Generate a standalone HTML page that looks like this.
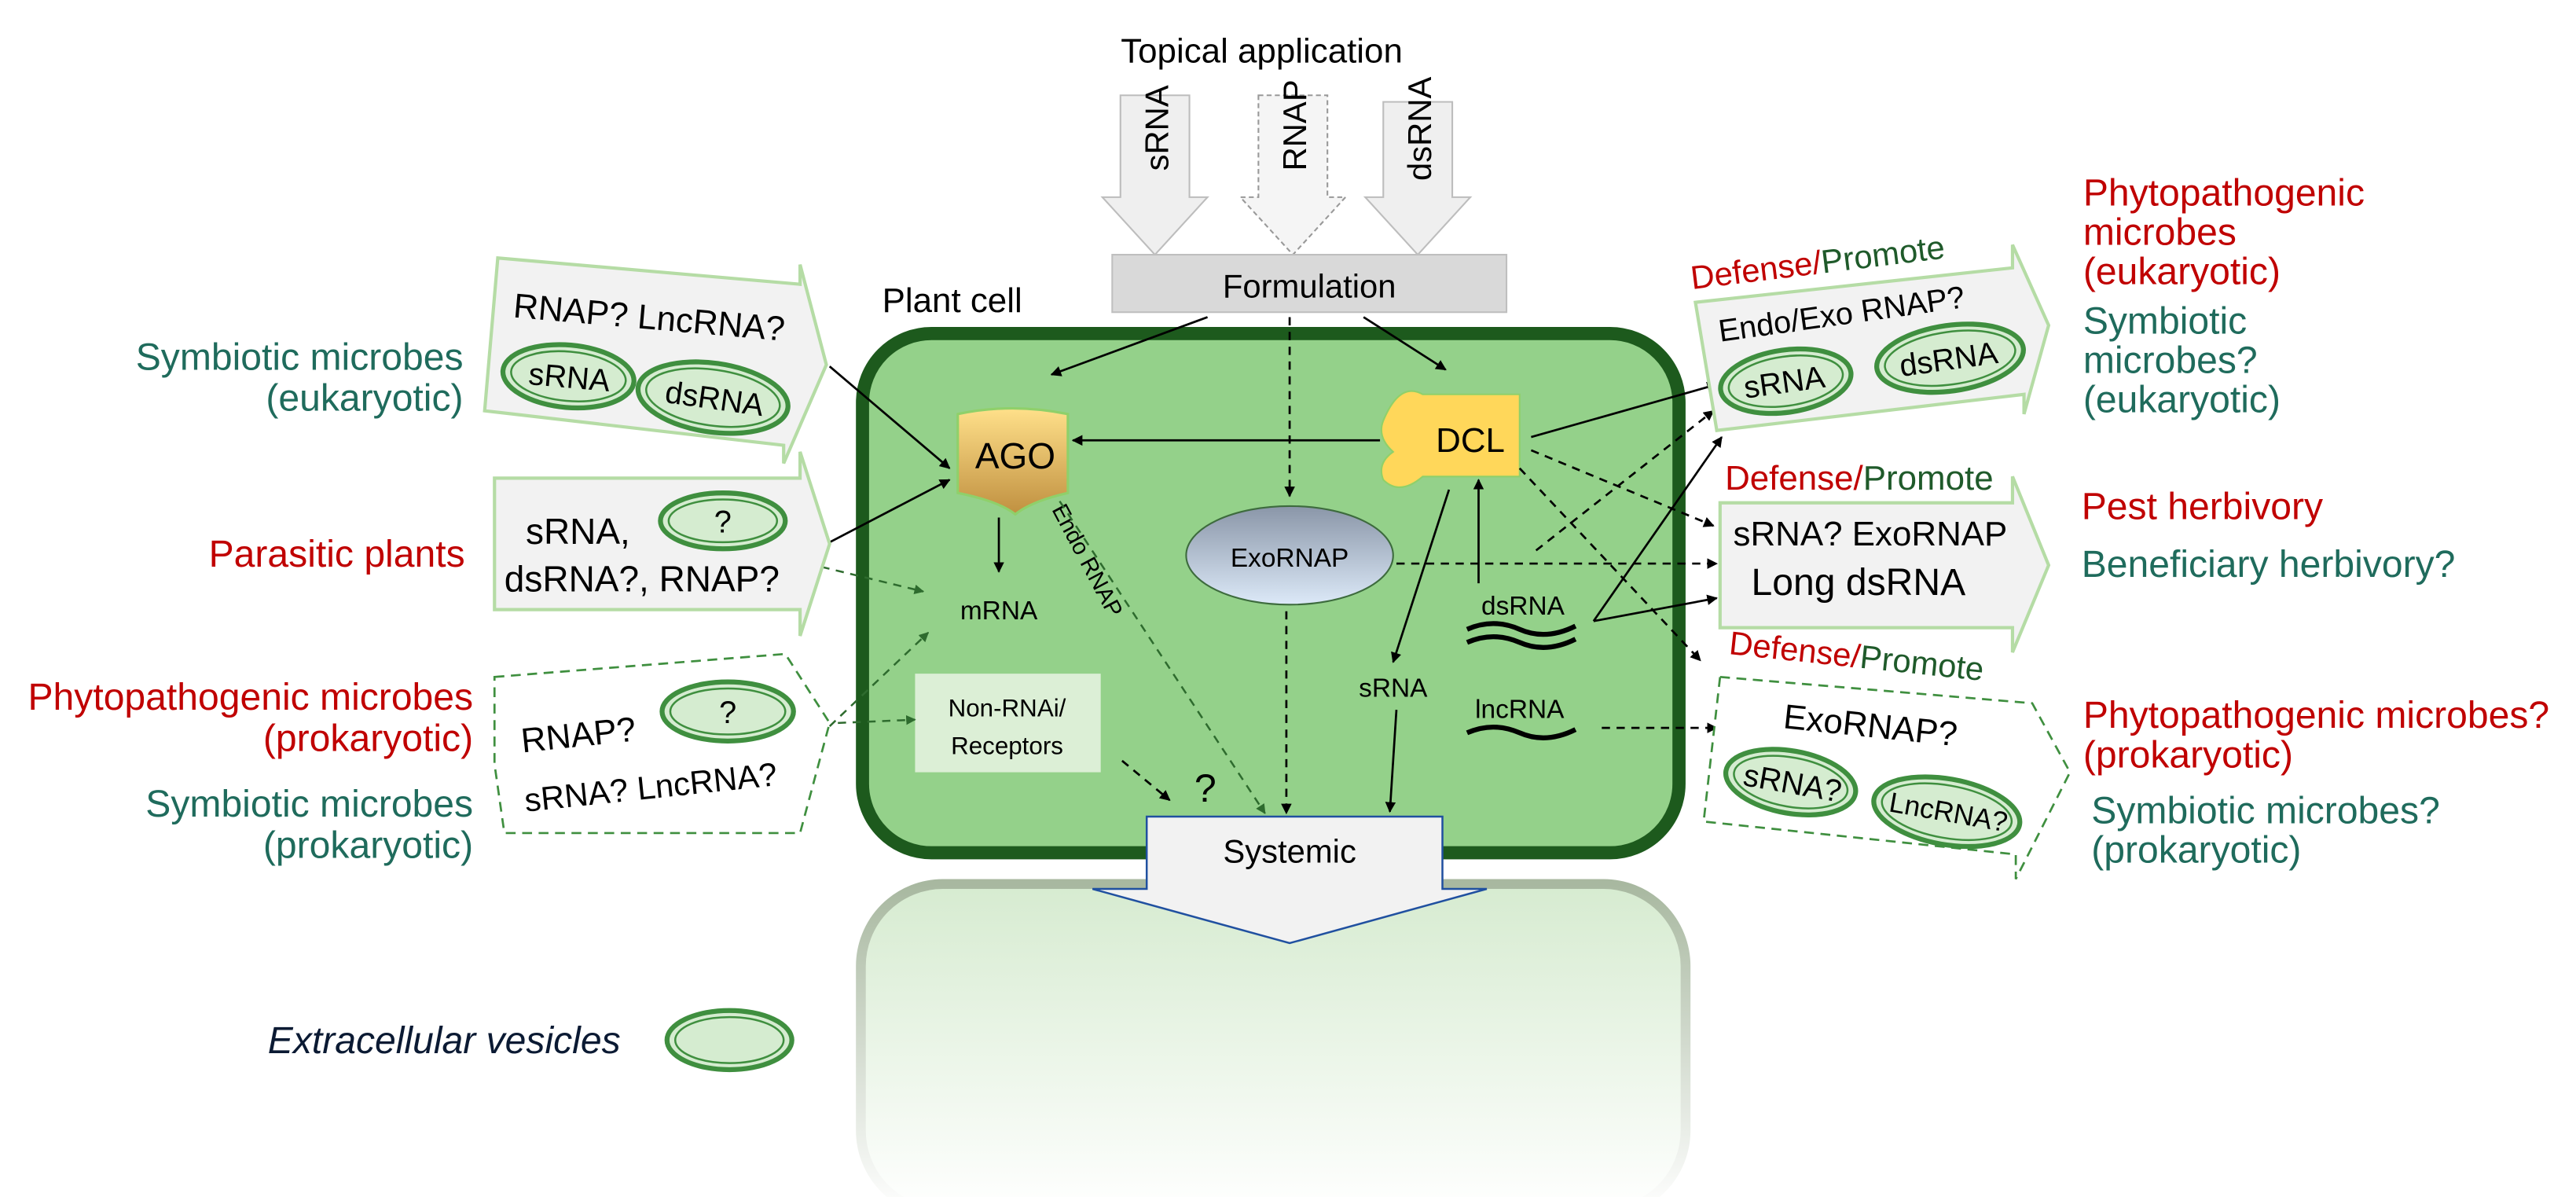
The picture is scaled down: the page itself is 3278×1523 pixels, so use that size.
<!DOCTYPE html>
<html><head><meta charset="utf-8"><style>
html,body{margin:0;padding:0;background:#fff;}
svg{display:block;}
text{font-family:"Liberation Sans",sans-serif;}
</style></head><body>
<svg width="3278" height="1523" viewBox="0 0 1568 728.5" xmlns="http://www.w3.org/2000/svg">
<defs>
<marker id="ah" viewBox="0 0 10 10" refX="9" refY="5" markerWidth="5" markerHeight="5" orient="auto"><path d="M0,0L10,5L0,10z" fill="#000"/></marker>
<marker id="ahg" viewBox="0 0 10 10" refX="9" refY="5" markerWidth="5" markerHeight="5" orient="auto"><path d="M0,0L10,5L0,10z" fill="#2e6b2e"/></marker>
<linearGradient id="ago" x1="0" y1="0" x2="0" y2="1"><stop offset="0" stop-color="#ffe08a"/><stop offset="1" stop-color="#c09040"/></linearGradient>
<linearGradient id="exo" x1="0" y1="0" x2="0" y2="1"><stop offset="0" stop-color="#8a96a8"/><stop offset="1" stop-color="#dce9f8"/></linearGradient>
<linearGradient id="low" x1="0" y1="0" x2="0" y2="1"><stop offset="0" stop-color="#d6ebd0"/><stop offset="1" stop-color="#ffffff"/></linearGradient>
<linearGradient id="lowb" x1="0" y1="0" x2="0" y2="1"><stop offset="0" stop-color="#a8b8a0"/><stop offset="1" stop-color="#ffffff"/></linearGradient>
</defs>

<!-- Topical -->
<text x="768" y="38" font-size="21" text-anchor="middle">Topical  application</text>
<path d="M682,58H724V120H735L703,155L671,120H682Z" fill="#efefef" stroke="#bdbdbd"/>
<text transform="translate(711,104) rotate(-90)" font-size="20">sRNA</text>
<path d="M766,58H808V120H819L787,155L755,120H766Z" fill="#f5f5f5" stroke="#999" stroke-dasharray="3,2"/>
<text transform="translate(795,104) rotate(-90)" font-size="20">RNAP</text>
<path d="M842,62H884V120H895L863,155L831,120H842Z" fill="#efefef" stroke="#bdbdbd"/>
<text transform="translate(871,110) rotate(-90)" font-size="20">dsRNA</text>
<rect x="677" y="155" width="240" height="35" fill="#d9d9d9" stroke="#bfbfbf"/>
<text x="797" y="181" font-size="20" text-anchor="middle">Formulation</text>

<!-- lower cell -->
<rect x="524" y="538" width="502" height="200" rx="50" fill="url(#low)" stroke="url(#lowb)" stroke-width="6"/>

<!-- plant cell -->
<text x="537" y="190" font-size="21">Plant cell</text>
<rect x="525" y="203" width="497" height="316" rx="42" fill="#94d18a" stroke="#1d5a1d" stroke-width="8"/>

<!-- AGO -->
<path d="M583,252Q616,245 650,252V300Q628,305 618,313Q608,305 583,300Z" fill="url(#ago)" stroke="#8fd06a" stroke-width="1.5"/>
<text x="618" y="285" font-size="22" text-anchor="middle">AGO</text>
<!-- DCL -->
<path d="M866,240H925V290H866Q852,302 842,292Q838,282 848,275Q838,266 842,256Q852,232 866,240Z" fill="#ffd75a" stroke="#8fd06a" stroke-width="1"/>
<text x="895" y="275" font-size="21" text-anchor="middle">DCL</text>
<!-- ExoRNAP -->
<ellipse cx="785" cy="338" rx="63" ry="30" fill="url(#exo)" stroke="#3d6b3d"/>
<text x="785" y="345" font-size="16" text-anchor="middle">ExoRNAP</text>
<text x="608" y="377" font-size="16" text-anchor="middle">mRNA</text>
<rect x="557" y="410" width="113" height="60" fill="#dcefd6"/>
<text x="613" y="436" font-size="15" text-anchor="middle">Non-RNAi/</text>
<text x="613" y="459" font-size="15" text-anchor="middle">Receptors</text>
<text x="848" y="424" font-size="16" text-anchor="middle">sRNA</text>
<text x="927" y="374" font-size="16" text-anchor="middle">dsRNA</text>
<path d="M893,383Q909,376 925,383T959,381M893,391Q909,384 925,391T959,389" stroke="#000" stroke-width="3" fill="none"/>
<text x="925" y="437" font-size="16" text-anchor="middle">lncRNA</text>
<path d="M893,446Q909,439 925,446T959,444" stroke="#000" stroke-width="3" fill="none"/>
<text transform="translate(640,310) rotate(62)" font-size="14">Endo RNAP</text>
<text x="727" y="488" font-size="24" fill="#000">?</text>

<!-- systemic -->
<path d="M698,497H878V541H905L785,574L665,541H698Z" fill="#f2f2f2" stroke="#2050a0" stroke-width="1.2"/>
<text x="785" y="525" font-size="20" text-anchor="middle">Systemic</text>

<!-- internal arrows -->
<g stroke="#000" stroke-width="1.3" fill="none" marker-end="url(#ah)">
<line x1="735" y1="193" x2="640" y2="228"/>
<line x1="830" y1="193" x2="880" y2="225"/>
<line x1="840" y1="268" x2="653" y2="268"/>
<line x1="608" y1="315" x2="608" y2="348"/>
<line x1="882" y1="298" x2="848" y2="403"/>
<line x1="850" y1="432" x2="846" y2="494"/>
<line x1="900" y1="355" x2="900" y2="292"/>
<line x1="932" y1="266" x2="1045" y2="234"/>
<line x1="970" y1="378" x2="1045" y2="364"/>
<line x1="970" y1="378" x2="1048" y2="266"/>
<line x1="505" y1="223" x2="578" y2="285"/>
<line x1="505" y1="330" x2="578" y2="292"/>
</g>
<g stroke="#000" stroke-width="1.3" fill="none" stroke-dasharray="5,4" marker-end="url(#ah)">
<line x1="785" y1="193" x2="785" y2="302"/>
<line x1="783" y1="372" x2="783" y2="495"/>
<line x1="850" y1="343" x2="1045" y2="343"/>
<line x1="975" y1="443" x2="1045" y2="443"/>
<line x1="935" y1="335" x2="1043" y2="250"/>
<line x1="932" y1="274" x2="1043" y2="320"/>
<line x1="925" y1="285" x2="1035" y2="402"/>
<line x1="683" y1="463" x2="712" y2="487"/>
</g>
<g stroke="#2e6b2e" stroke-width="1.2" fill="none" stroke-dasharray="5,4" marker-end="url(#ahg)">
<line x1="645" y1="305" x2="770" y2="495"/>
<line x1="500" y1="345" x2="562" y2="360"/>
<line x1="505" y1="442" x2="565" y2="385"/>
<line x1="510" y1="440" x2="557" y2="438"/>
</g>

<!-- left inputs -->
<path d="M303,157L487,173L487,161L503,222L477,282L477,271L295,250Z" fill="#f2f2f2" stroke="#b5dca5" stroke-width="2"/>
<text transform="translate(312,193) rotate(5)" font-size="21">RNAP? LncRNA?</text>
<g transform="rotate(5 346 229)"><ellipse cx="346" cy="229" rx="40" ry="19" fill="#d5ecd0" stroke="#3f8f3f" stroke-width="3"/><ellipse cx="346" cy="229" rx="35" ry="15" fill="none" stroke="#3f8f3f" stroke-width="1.2"/></g>
<text transform="translate(346,236) rotate(5)" font-size="19" text-anchor="middle">sRNA</text>
<g transform="rotate(8 434 242)"><ellipse cx="434" cy="242" rx="46" ry="21" fill="#d5ecd0" stroke="#3f8f3f" stroke-width="3"/><ellipse cx="434" cy="242" rx="41" ry="17" fill="none" stroke="#3f8f3f" stroke-width="1.2"/></g>
<text transform="translate(434,249) rotate(8)" font-size="19" text-anchor="middle">dsRNA</text>

<path d="M301,291H487V275L505,331L487,387V371H301Z" fill="#f2f2f2" stroke="#b5dca5" stroke-width="2"/>
<text x="320" y="331" font-size="22">sRNA,</text>
<text x="307" y="360" font-size="22">dsRNA?, RNAP?</text>
<ellipse cx="440" cy="317" rx="38" ry="17" fill="#d5ecd0" stroke="#3f8f3f" stroke-width="3"/>
<ellipse cx="440" cy="317" rx="33" ry="13" fill="none" stroke="#3f8f3f" stroke-width="1.2"/>
<text x="440" y="324" font-size="19" text-anchor="middle">?</text>

<path d="M301,412L478,398L505,440L487,507L307,507L301,465Z" fill="#fff" stroke="#3f8f3f" stroke-width="1.3" stroke-dasharray="6,4"/>
<text transform="translate(318,458) rotate(-6)" font-size="21">RNAP?</text>
<ellipse cx="443" cy="433" rx="40" ry="18" fill="#d5ecd0" stroke="#3f8f3f" stroke-width="3"/>
<ellipse cx="443" cy="433" rx="35" ry="14" fill="none" stroke="#3f8f3f" stroke-width="1.2"/>
<text x="443" y="440" font-size="19" text-anchor="middle">?</text>
<text transform="translate(320,494) rotate(-6)" font-size="20">sRNA? LncRNA?</text>

<g font-size="23">
<text x="282" y="225" text-anchor="end" fill="#1f6b5c">Symbiotic microbes</text>
<text x="282" y="250" text-anchor="end" fill="#1f6b5c">(eukaryotic)</text>
<text x="283" y="345" text-anchor="end" fill="#c00000">Parasitic plants</text>
<text x="288" y="432" text-anchor="end" fill="#c00000">Phytopathogenic  microbes</text>
<text x="288" y="457" text-anchor="end" fill="#c00000">(prokaryotic)</text>
<text x="288" y="497" text-anchor="end" fill="#1f6b5c">Symbiotic microbes</text>
<text x="288" y="522" text-anchor="end" fill="#1f6b5c">(prokaryotic)</text>
</g>
<text x="163" y="641" font-size="23" font-style="italic" fill="#0b1a33">Extracellular vesicles</text>
<ellipse cx="444" cy="633" rx="38" ry="18" fill="#d5ecd0" stroke="#3f8f3f" stroke-width="3"/>
<ellipse cx="444" cy="633" rx="33" ry="14" fill="none" stroke="#3f8f3f" stroke-width="1.2"/>

<!-- right outputs -->
<text transform="translate(1030,176) rotate(-7)" font-size="20"><tspan fill="#c00000">Defense/</tspan><tspan fill="#1f5a2a">Promote</tspan></text>
<path d="M1032,184L1225,163L1225,149L1247,198L1232,252L1232,240L1045,262Z" fill="#f2f2f2" stroke="#b5dca5" stroke-width="2"/>
<text transform="translate(1047,208) rotate(-8)" font-size="19">Endo/Exo RNAP?</text>
<g transform="rotate(-8 1087 232)"><ellipse cx="1087" cy="232" rx="40" ry="19" fill="#d5ecd0" stroke="#3f8f3f" stroke-width="3"/><ellipse cx="1087" cy="232" rx="35" ry="15" fill="none" stroke="#3f8f3f" stroke-width="1.2"/></g>
<text transform="translate(1087,239) rotate(-8)" font-size="19" text-anchor="middle">sRNA</text>
<g transform="rotate(-8 1187 218)"><ellipse cx="1187" cy="218" rx="45" ry="20" fill="#d5ecd0" stroke="#3f8f3f" stroke-width="3"/><ellipse cx="1187" cy="218" rx="40" ry="16" fill="none" stroke="#3f8f3f" stroke-width="1.2"/></g>
<text transform="translate(1187,225) rotate(-8)" font-size="19" text-anchor="middle">dsRNA</text>

<text x="1050" y="298" font-size="21"><tspan fill="#c00000">Defense/</tspan><tspan fill="#1f5a2a">Promote</tspan></text>
<path d="M1047,306H1225V290L1247,344L1225,397V382H1047Z" fill="#f2f2f2" stroke="#b5dca5" stroke-width="2"/>
<text x="1055" y="332" font-size="21">sRNA? ExoRNAP</text>
<text x="1066" y="362" font-size="23">Long dsRNA</text>

<text transform="translate(1052,398) rotate(6)" font-size="20"><tspan fill="#c00000">Defense/</tspan><tspan fill="#1f5a2a">Promote</tspan></text>
<path d="M1047,412L1237,428L1260,470L1227,535L1227,520L1037,500Z" fill="#fff" stroke="#3f8f3f" stroke-width="1.3" stroke-dasharray="6,4"/>
<text transform="translate(1085,443) rotate(6)" font-size="21">ExoRNAP?</text>
<g transform="rotate(10 1090 476)"><ellipse cx="1090" cy="476" rx="40" ry="19" fill="#d5ecd0" stroke="#3f8f3f" stroke-width="3"/><ellipse cx="1090" cy="476" rx="35" ry="15" fill="none" stroke="#3f8f3f" stroke-width="1.2"/></g>
<text transform="translate(1090,483) rotate(10)" font-size="19" text-anchor="middle">sRNA?</text>
<g transform="rotate(10 1185 494)"><ellipse cx="1185" cy="494" rx="45" ry="20" fill="#d5ecd0" stroke="#3f8f3f" stroke-width="3"/><ellipse cx="1185" cy="494" rx="40" ry="16" fill="none" stroke="#3f8f3f" stroke-width="1.2"/></g>
<text transform="translate(1185,500) rotate(10)" font-size="17" text-anchor="middle">LncRNA?</text>

<g font-size="23">
<text x="1268" y="125" fill="#c00000">Phytopathogenic</text>
<text x="1268" y="149" fill="#c00000">microbes</text>
<text x="1268" y="173" fill="#c00000">(eukaryotic)</text>
<text x="1268" y="203" fill="#1f6b5c">Symbiotic</text>
<text x="1268" y="227" fill="#1f6b5c">microbes?</text>
<text x="1268" y="251" fill="#1f6b5c">(eukaryotic)</text>
<text x="1267" y="316" fill="#c00000">Pest herbivory</text>
<text x="1267" y="351" fill="#1f6b5c">Beneficiary  herbivory?</text>
<text x="1268" y="443" fill="#c00000">Phytopathogenic  microbes?</text>
<text x="1268" y="467" fill="#c00000">(prokaryotic)</text>
<text x="1273" y="501" fill="#1f6b5c">Symbiotic microbes?</text>
<text x="1273" y="525" fill="#1f6b5c">(prokaryotic)</text>
</g>
</svg>
</body></html>
